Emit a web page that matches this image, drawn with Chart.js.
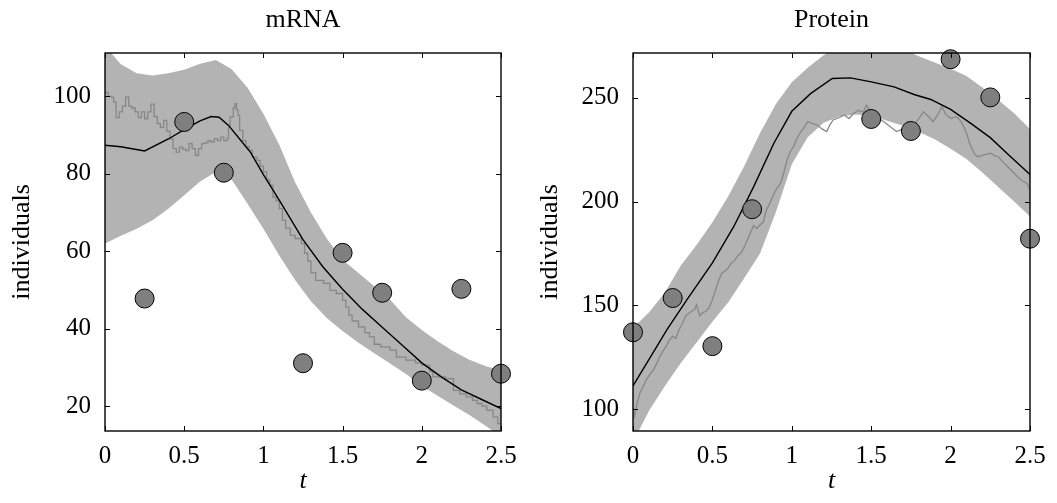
<!DOCTYPE html>
<html>
<head>
<meta charset="utf-8">
<title>mRNA / Protein</title>
<script src="https://cdn.jsdelivr.net/npm/chart.js@4"></script>
<style>
  body { margin: 0; background: #fff; }
  #wrap { position: relative; width: 1057px; height: 503px; }
  canvas { position: absolute; top: 0; }
</style>
</head>
<body>
<div id="wrap">
  <canvas id="mrnaChart" width="528" height="503" style="left:0"></canvas>
  <canvas id="proteinChart" width="529" height="503" style="left:528px"></canvas>
</div>
<script>
// ---- data ----
const xTicks = [0, 0.5, 1, 1.5, 2, 2.5];
const mrnaTicks = [20, 40, 60, 80, 100];
const proteinTicks = [100, 150, 200, 250];

// band sample times (shared by upper / lower edges)
const bandT = [0, 0.1, 0.2, 0.3, 0.4, 0.5, 0.6, 0.7, 0.8, 0.9, 1.0, 1.1, 1.2,
  1.3, 1.4, 1.5, 1.6, 1.7, 1.8, 1.9, 2.0, 2.1, 2.2, 2.3, 2.4, 2.5];

// mRNA
const mrnaObsT = [0.25, 0.5, 0.75, 1.25, 1.5, 1.75, 2.0, 2.25, 2.5];
const mrnaObs = [47.8, 93.4, 80.3, 31.1, 59.6, 49.3, 26.6, 50.3, 28.4];
const mrnaUpper = [113.0, 108.3, 106.0, 105.4, 106.0, 106.9, 108.4, 109.4, 107.0, 102.2,
  95.5, 87.5, 77.8, 70.0, 63.3, 57.8, 54.4, 51.0, 47.5, 43.0, 39.7, 36.8, 34.2, 32.0, 30.4, 29.2];
const mrnaLower = [62.0, 64.0, 65.8, 68.0, 71.0, 74.5, 78.0, 80.5, 78.5, 72.3,
  65.8, 58.9, 52.6, 47.1, 42.8, 39.4, 36.4, 33.7, 31.0, 28.3, 25.2, 22.7, 20.2, 17.7, 15.0, 12.2];
const mrnaMeanT = [0, 0.1, 0.25, 0.4, 0.5, 0.6, 0.67, 0.72, 0.78, 0.85, 0.92, 1.0, 1.1,
  1.25, 1.375, 1.5, 1.625, 1.75, 1.875, 2.0, 2.125, 2.25, 2.375, 2.5];
const mrnaMean = [87.4, 87.0, 85.9, 89.0, 91.4, 93.7, 94.8, 94.6, 92.5, 89.0, 85.5, 79.8, 73.2,
  63.0, 56.0, 50.2, 45.0, 40.4, 35.8, 31.2, 27.5, 24.2, 21.8, 19.4];
const mrnaPathT = [0, 0.02, 0.04, 0.055, 0.07, 0.09, 0.11, 0.13, 0.15, 0.17, 0.19, 0.21, 0.23,
  0.25, 0.27, 0.29, 0.31, 0.33, 0.35, 0.37, 0.39, 0.41, 0.43, 0.45, 0.47, 0.49, 0.51, 0.53,
  0.55, 0.57, 0.59, 0.61, 0.63, 0.65, 0.67, 0.69, 0.71, 0.73, 0.75, 0.77, 0.78, 0.79, 0.81,
  0.82, 0.83, 0.84, 0.85, 0.87, 0.89, 0.91, 0.93, 0.96, 0.98, 1.0, 1.02, 1.04, 1.06, 1.08,
  1.1, 1.12, 1.14, 1.17, 1.2, 1.24, 1.26, 1.28, 1.3, 1.33, 1.38, 1.42, 1.46, 1.5, 1.52, 1.54,
  1.56, 1.6, 1.64, 1.67, 1.7, 1.74, 1.8, 1.84, 1.9, 1.96, 2.0, 2.05, 2.07, 2.15, 2.2, 2.24,
  2.28, 2.32, 2.35, 2.38, 2.41, 2.45, 2.48, 2.5];
const mrnaPath = [101.0, 100.0, 99.8, 98.5, 94.5, 96.0, 97.5, 99.8, 97.5, 97.0, 96.0, 94.5, 96.0,
  94.2, 96.0, 98.0, 94.8, 93.0, 92.0, 93.8, 91.0, 89.0, 86.5, 85.6, 86.9, 86.4, 86.0, 87.8,
  86.5, 84.8, 86.5, 87.8, 88.0, 88.6, 88.2, 89.1, 88.6, 89.5, 88.6, 89.1, 92.0, 94.7, 97.0,
  98.1, 96.5, 95.1, 91.2, 88.6, 87.0, 86.1, 84.3, 83.5, 82.0, 80.5, 78.5, 77.0, 74.0, 73.0,
  71.0, 68.0, 66.0, 64.1, 63.3, 62.0, 59.5, 57.5, 54.5, 52.5, 51.7, 49.9, 49.1, 47.4, 45.6, 43.5,
  42.0, 40.5, 39.0, 37.9, 36.0, 35.3, 34.5, 32.7, 31.9, 31.2, 30.6, 29.0, 27.6, 27.1, 24.1, 23.2,
  22.4, 21.5, 20.7, 20.0, 19.0, 17.2, 15.5, 15.0];

// Protein
const proteinObsT = [0, 0.25, 0.5, 0.75, 1.5, 1.75, 2.0, 2.25, 2.5];
const proteinObs = [137.0, 153.5, 130.3, 196.3, 239.8, 234.0, 268.6, 250.2, 182.1];
const proteinUpper = [139, 146.5, 156, 169, 179, 190, 202.5, 217, 233, 247,
  257.5, 264.5, 270.5, 275, 277, 277, 276, 273.5, 270, 267, 264, 260.5, 255, 249, 242.5, 235];
const proteinLower = [84, 99, 111, 122, 132, 142, 151.5, 163, 175, 195,
  218, 231, 238, 241, 242, 241.5, 239, 236.5, 233.5, 230, 225.5, 220.5, 214, 207, 200, 192.8];
const proteinMeanT = [0, 0.1, 0.214, 0.34, 0.5, 0.635, 0.76, 0.887, 1.0, 1.118, 1.255, 1.37,
  1.5, 1.644, 1.77, 1.875, 2.0, 2.127, 2.25, 2.378, 2.5];
const proteinMean = [111.1, 123.8, 138.3, 152.7, 170.4, 188.0, 207.2, 228.1, 243.5, 252.0, 259.3,
  259.6, 257.7, 255.3, 251.6, 249.2, 244.4, 237.7, 230.8, 221.6, 213.0];
const proteinPathT = [0, 0.01, 0.03, 0.045, 0.065, 0.085, 0.11, 0.13, 0.15, 0.17, 0.19, 0.21,
  0.23, 0.25, 0.27, 0.29, 0.31, 0.33, 0.35, 0.37, 0.39, 0.4, 0.42, 0.44, 0.46, 0.48, 0.5, 0.52,
  0.54, 0.56, 0.58, 0.6, 0.62, 0.64, 0.66, 0.68, 0.7, 0.72, 0.74, 0.76, 0.78, 0.8, 0.82, 0.84,
  0.86, 0.88, 0.9, 0.93, 0.95, 0.97, 0.99, 1.01, 1.03, 1.05, 1.08, 1.1, 1.13, 1.16, 1.19, 1.22,
  1.24, 1.26, 1.3, 1.33, 1.36, 1.39, 1.42, 1.45, 1.47, 1.49, 1.52, 1.55, 1.58, 1.62, 1.66, 1.7,
  1.73, 1.77, 1.8, 1.83, 1.86, 1.89, 1.92, 1.945, 1.97, 2.0, 2.04, 2.07, 2.1, 2.12, 2.15, 2.17,
  2.21, 2.25, 2.28, 2.3, 2.33, 2.36, 2.39, 2.42, 2.45, 2.48, 2.5];
const proteinPath = [100.5, 96.6, 104, 108, 111, 114.3, 117, 119, 122, 125.5, 128, 130.3,
  133.5, 135.1, 134, 138.3, 141, 144.7, 146, 147.1, 148, 150.3, 145, 146.5, 147.1, 149, 152.7, 157.5,
  162, 165.6, 166.5, 168, 170.4, 171.5, 174, 175.2, 178, 181.6, 185, 188.5, 187, 188.8, 190, 196.0,
  199, 202.4, 205.6, 209, 214, 220, 224, 226.4, 230, 232.9, 236, 238.5, 237.5, 236.9, 235, 233.7,
  237, 239.3, 240.5, 241.7, 240, 242.5, 244, 243, 246.5, 244, 241, 240, 238.5, 236, 233.7, 235,
  238.5, 237, 240, 243.3, 241, 238.5, 242, 245.7, 242, 240.1, 240.9, 238, 233, 228, 223, 221.6,
  222.5, 223.3, 222, 221.6, 219, 216.8, 214.5, 212, 210, 208.8, 205.6];

// ---- helpers ----
Chart.defaults.font.family = "'Liberation Serif', 'Times New Roman', serif";
Chart.defaults.color = '#000';

function pts(xs, ys) {
  return xs.map((x, i) => ({ x: x, y: ys[i] }));
}

// frame with inward ticks on all four sides
const framePlugin = {
  id: 'frame',
  afterDraw(chart) {
    const { ctx, chartArea: a } = chart;
    const xs = chart.scales.x, ys = chart.scales.y;
    ctx.save();
    ctx.strokeStyle = '#000';
    ctx.lineWidth = 1;
    ctx.beginPath();
    xs.ticks.forEach(t => {
      const px = Math.round(xs.getPixelForValue(t.value)) + 0.5;
      ctx.moveTo(px, a.bottom); ctx.lineTo(px, a.bottom - 5);
      ctx.moveTo(px, a.top); ctx.lineTo(px, a.top + 5);
    });
    ys.ticks.forEach(t => {
      const py = Math.round(ys.getPixelForValue(t.value)) + 0.5;
      ctx.moveTo(a.left, py); ctx.lineTo(a.left + 5, py);
      ctx.moveTo(a.right, py); ctx.lineTo(a.right - 5, py);
    });
    ctx.stroke();
    ctx.lineWidth = 1.4;
    ctx.strokeRect(a.left, a.top, a.right - a.left, a.bottom - a.top);
    ctx.restore();
  }
};

function makeChart(id, opts) {
  return new Chart(document.getElementById(id), {
    type: 'line',
    data: {
      datasets: [
        {
          label: 'observations',
          data: pts(opts.obsT, opts.obs),
          showLine: false,
          pointRadius: 9.5,
          pointBackgroundColor: '#7f7f7f',
          pointBorderColor: '#000',
          pointBorderWidth: 1,
          clip: false
        },
        {
          label: 'mean',
          data: pts(opts.meanT, opts.mean),
          borderColor: '#000',
          borderWidth: 1.4,
          pointRadius: 0,
          tension: 0,
          fill: false
        },
        {
          label: 'trajectory',
          data: pts(opts.pathT, opts.path),
          borderColor: '#878787',
          borderWidth: 1.3,
          pointRadius: 0,
          tension: 0,
          stepped: opts.stepped,
          fill: false
        },
        {
          label: 'upper',
          data: pts(bandT, opts.upper),
          borderWidth: 0,
          pointRadius: 0,
          backgroundColor: '#b3b3b3',
          fill: '+1'
        },
        {
          label: 'lower',
          data: pts(bandT, opts.lower),
          borderWidth: 0,
          pointRadius: 0,
          fill: false
        }
      ]
    },
    options: {
      responsive: false,
      animation: false,
      devicePixelRatio: 1,
      events: [],
      layout: { padding: { left: 0, right: 27, top: 0, bottom: 0 } },
      plugins: {
        legend: { display: false },
        tooltip: { enabled: false },
        title: {
          display: true,
          fullSize: false,
          text: opts.title,
          font: { size: 26, weight: 'normal', lineHeight: 1.2 },
          color: '#000',
          padding: { top: 5, bottom: 16.8 }
        }
      },
      scales: {
        x: {
          type: 'linear',
          min: 0,
          max: 2.5,
          afterBuildTicks: s => { s.ticks = xTicks.map(v => ({ value: v })); },
          afterFit: s => { s.height = 72; },
          grid: { display: false, drawTicks: false },
          border: { display: false },
          ticks: {
            padding: 10,
            font: { size: 25 },
            color: '#000',
            maxRotation: 0,
            autoSkip: false,
            callback: v => String(v)
          },
          title: {
            display: true,
            text: 't',
            font: { size: 26, style: 'italic' },
            color: '#000',
            padding: { top: 0, bottom: 6 }
          }
        },
        y: {
          type: 'linear',
          min: opts.yMin,
          max: opts.yMax,
          afterBuildTicks: s => { s.ticks = opts.yTicks.map(v => ({ value: v })); },
          afterFit: s => { s.width = 105; },
          grid: { display: false, drawTicks: false },
          border: { display: false },
          ticks: { padding: 14, font: { size: 25 }, color: '#000', autoSkip: false },
          title: {
            display: true,
            text: 'individuals',
            font: { size: 26 },
            color: '#000',
            padding: { top: 7, bottom: 0 }
          }
        }
      }
    },
    plugins: [framePlugin]
  });
}

const mrnaChart = makeChart('mrnaChart', {
  title: 'mRNA',
  obsT: mrnaObsT, obs: mrnaObs,
  meanT: mrnaMeanT, mean: mrnaMean,
  pathT: mrnaPathT, path: mrnaPath, stepped: true,
  upper: mrnaUpper, lower: mrnaLower,
  yMin: 13.6, yMax: 111.2, yTicks: mrnaTicks
});

const proteinChart = makeChart('proteinChart', {
  title: 'Protein',
  obsT: proteinObsT, obs: proteinObs,
  meanT: proteinMeanT, mean: proteinMean,
  pathT: proteinPathT, path: proteinPath, stepped: false,
  upper: proteinUpper, lower: proteinLower,
  yMin: 89.4, yMax: 271.6, yTicks: proteinTicks
});
</script>
</body>
</html>
